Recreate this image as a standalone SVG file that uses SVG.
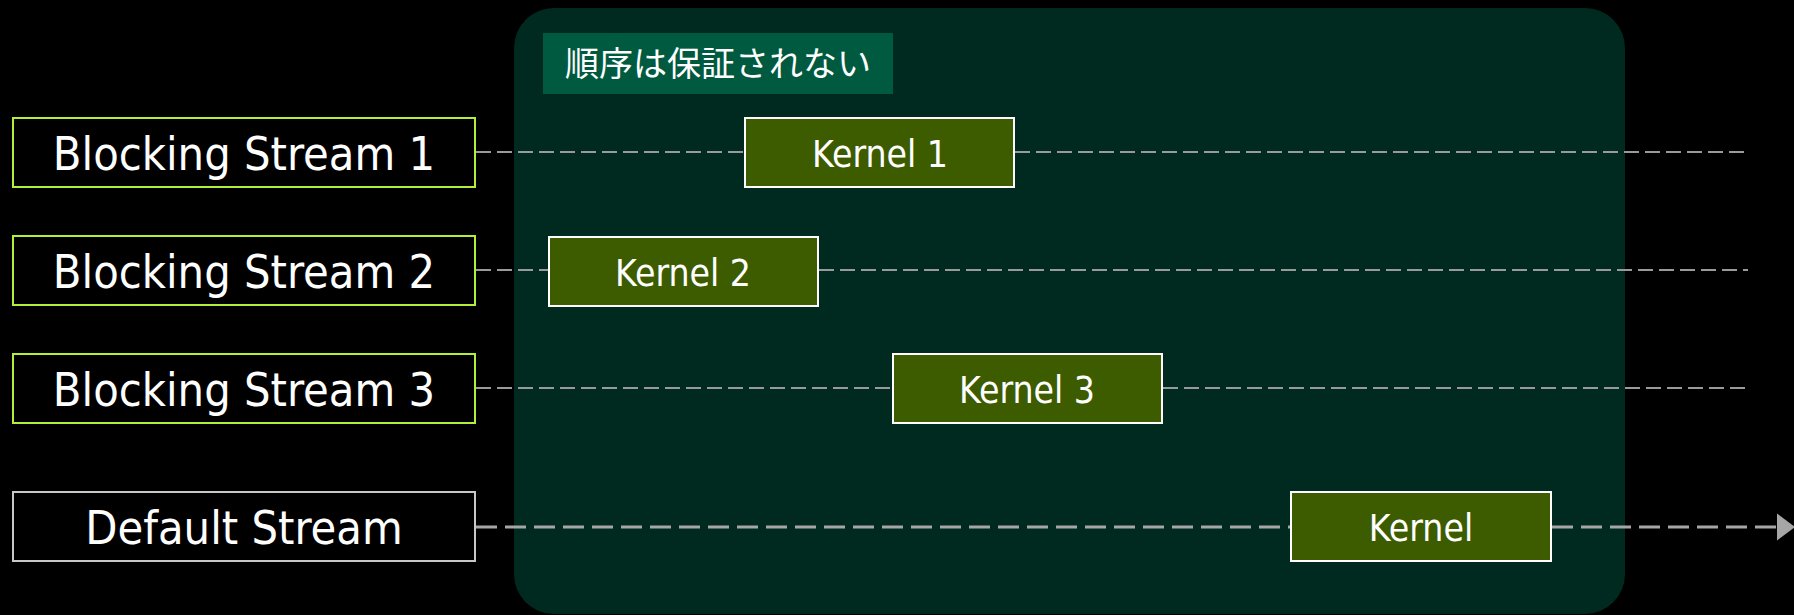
<svg xmlns="http://www.w3.org/2000/svg" width="1794" height="615" viewBox="0 0 1794 615">
<defs>
<style>
.stream{fill:#000;stroke:#b2ef3a;stroke-width:2}
.dstream{fill:#000;stroke:#c8c8c8;stroke-width:2}
.kernel{fill:#3d5c00;stroke:#fff;stroke-width:2}
.lbl{font-family:"DejaVu Sans Condensed","DejaVu Sans",sans-serif;fill:#fff;text-anchor:middle}
.big{font-size:46.5px}
.small{font-size:37px}
.jp{font-family:"Noto Sans CJK JP",sans-serif;font-size:34px;fill:#fff;text-anchor:middle}
.dash{stroke:#9a9a9a;stroke-width:2;stroke-dasharray:15 6;fill:none}
.dash4{stroke:#a6a6a6;stroke-width:3;stroke-dasharray:21 8;fill:none}
</style>
<marker id="arr" markerWidth="6" markerHeight="10" refX="0" refY="4.5" orient="auto" markerUnits="strokeWidth" viewBox="0 0 6 9">
<path d="M0,0 L6,4.5 L0,9 Z" fill="#a6a6a6"/>
</marker>
</defs>
<rect width="1794" height="615" fill="#000"/>
<g id="region">
<rect x="514" y="8" width="1111" height="606" rx="40" ry="40" fill="#002a20"/>
</g>
<g id="note">
<rect x="543" y="33" width="350" height="61" fill="#005a40"/>
<text class="jp" x="718" y="76">順序は保証されない</text>
</g>
<g id="connectors">
<line class="dash" x1="476" y1="152" x2="744" y2="152"/>
<line class="dash" x1="1015" y1="152" x2="1748" y2="152"/>
<line class="dash" x1="476" y1="270" x2="548" y2="270"/>
<line class="dash" x1="819" y1="270" x2="1748" y2="270"/>
<line class="dash" x1="476" y1="388" x2="892" y2="388"/>
<line class="dash" x1="1163" y1="388" x2="1748" y2="388"/>
<line class="dash4" x1="476" y1="527" x2="1290" y2="527"/>
<line class="dash4" x1="1552" y1="527" x2="1777" y2="527" marker-end="url(#arr)"/>
</g>
<g id="bs1">
<rect class="stream" x="13" y="118" width="462" height="69"/>
<text class="lbl big" x="244" y="170">Blocking Stream 1</text>
</g>
<g id="bs2">
<rect class="stream" x="13" y="236" width="462" height="69"/>
<text class="lbl big" x="244" y="288">Blocking Stream 2</text>
</g>
<g id="bs3">
<rect class="stream" x="13" y="354" width="462" height="69"/>
<text class="lbl big" x="244" y="406">Blocking Stream 3</text>
</g>
<g id="ds">
<rect class="dstream" x="13" y="492" width="462" height="69"/>
<text class="lbl big" x="244" y="544">Default Stream</text>
</g>
<g id="k1">
<rect class="kernel" x="745" y="118" width="269" height="69"/>
<text class="lbl small" x="880" y="167">Kernel 1</text>
</g>
<g id="k2">
<rect class="kernel" x="549" y="237" width="269" height="69"/>
<text class="lbl small" x="683" y="286">Kernel 2</text>
</g>
<g id="k3">
<rect class="kernel" x="893" y="354" width="269" height="69"/>
<text class="lbl small" x="1027" y="403">Kernel 3</text>
</g>
<g id="k">
<rect class="kernel" x="1291" y="492" width="260" height="69"/>
<text class="lbl small" x="1421" y="541">Kernel</text>
</g>
</svg>
